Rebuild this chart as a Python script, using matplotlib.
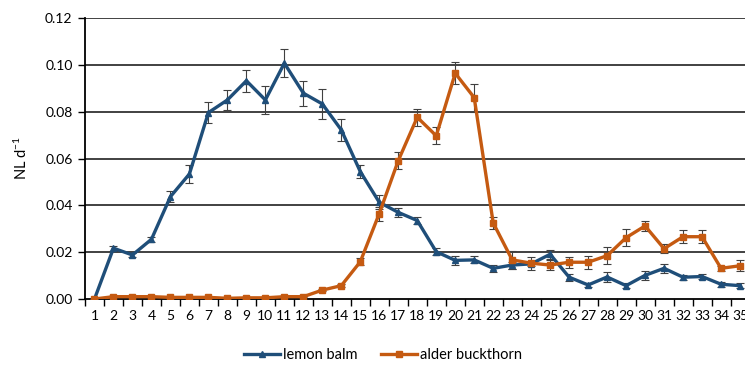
import matplotlib
matplotlib.use("Agg")
import matplotlib.pyplot as plt
import numpy as np

plt.rcParams['font.family'] = ['Lato', 'DejaVu Sans']
plt.rcParams['mathtext.default'] = 'regular'

# day index
days = list(range(1, 36))

# lemon balm (blue, triangles)
lemon_balm = [0.000, 0.0217, 0.0188, 0.0255, 0.0437, 0.0534, 0.0796, 0.085, 0.0932, 0.085,
              0.1007, 0.0879, 0.0833, 0.0722, 0.0544, 0.0413, 0.037, 0.0335, 0.0202, 0.0165,
              0.0167, 0.0131, 0.0145, 0.015, 0.0191, 0.0093, 0.006, 0.0094, 0.0057, 0.0101,
              0.0131, 0.0093, 0.0096, 0.0063, 0.0057]
lemon_balm_err = [0.0, 0.001, 0.0008, 0.0011, 0.0024, 0.0038, 0.0044, 0.0043, 0.0047, 0.0061,
                  0.0061, 0.0054, 0.0063, 0.0047, 0.0028, 0.003, 0.002, 0.0015, 0.0015, 0.002,
                  0.0015, 0.0015, 0.0015, 0.001, 0.002, 0.0015, 0.001, 0.002, 0.001, 0.002,
                  0.002, 0.001, 0.001, 0.001, 0.001]

# alder buckthorn (orange, squares)
alder_buckthorn = [0.000, 0.001, 0.001, 0.001, 0.0007, 0.0007, 0.0007, 0.0003, 0.0005, 0.0005,
                   0.001, 0.001, 0.0038, 0.0057, 0.0159, 0.0365, 0.0591, 0.0776, 0.0697, 0.0964,
                   0.086, 0.0325, 0.0167, 0.0153, 0.0145, 0.0157, 0.0157, 0.0185, 0.0262, 0.0312,
                   0.0215, 0.0266, 0.0266, 0.0131, 0.0142]
alder_buckthorn_err = [0.0, 0.0003, 0.0003, 0.0003, 0.0003, 0.0003, 0.0003, 0.0002, 0.0003, 0.0003,
                       0.0003, 0.0003, 0.0005, 0.0006, 0.0015, 0.003, 0.0036, 0.0037, 0.0036, 0.0047,
                       0.006, 0.0027, 0.004, 0.0028, 0.002, 0.0024, 0.0028, 0.0037, 0.0036, 0.0023,
                       0.002, 0.0027, 0.0027, 0.0011, 0.0023]

y_ticks = [0.00, 0.02, 0.04, 0.06, 0.08, 0.10, 0.12]

BLUE = '#1F4E79'
ORANGE = '#C55A11'

fig = plt.figure(figsize=(7.45, 3.65), dpi=100)
# axes runs a little past the right edge, like the cropped original
ax = fig.add_axes([85 / 745, 1 - 299 / 365, (749.5 - 85) / 745, (299 - 18) / 365])

for y in y_ticks[1:]:
    ax.axhline(y, color='#333333', lw=1.3, zorder=0)

lb = ax.errorbar(days, lemon_balm, yerr=lemon_balm_err, color=BLUE, lw=2.4, marker='^', ms=5,
                 ecolor='#404040', elinewidth=0.8, capsize=3, capthick=0.8, zorder=3)
ab = ax.errorbar(days, alder_buckthorn, yerr=alder_buckthorn_err, color=ORANGE, lw=2.4, marker='s', ms=5,
                 ecolor='#404040', elinewidth=0.8, capsize=3, capthick=0.8, zorder=3)

ax.set_xlim(0.5, 35.5)
ax.set_ylim(0, 0.12)
ax.set_yticks(y_ticks)
ax.set_yticklabels([f'{v:.2f}' for v in y_ticks], fontsize=10)
ax.set_xticks(days)
ax.set_xticklabels([str(d) for d in days], fontsize=10)
ax.set_xticks(np.arange(0.5, 36, 1), minor=True)
ax.tick_params(axis='x', which='major', length=0, pad=8)
ax.tick_params(axis='x', which='minor', length=5, width=1, color='black', direction='out')
ax.tick_params(axis='y', length=5, width=1, direction='out', pad=4)

for s in ['top', 'right']:
    ax.spines[s].set_visible(False)
ax.spines['left'].set_linewidth(1.3)
ax.spines['bottom'].set_linewidth(1.3)

ax.set_ylabel('NL d$^{-1}$', fontsize=10.5, labelpad=11)

fig.legend([lb[0], ab[0]], ['lemon balm', 'alder buckthorn'], loc='center',
           bbox_to_anchor=(383 / 745, 1 - 355 / 365), ncol=2, frameon=False,
           fontsize=10.5, handlelength=2.5, columnspacing=1.6, handletextpad=0.2)

fig.savefig('out.png', dpi=100)
